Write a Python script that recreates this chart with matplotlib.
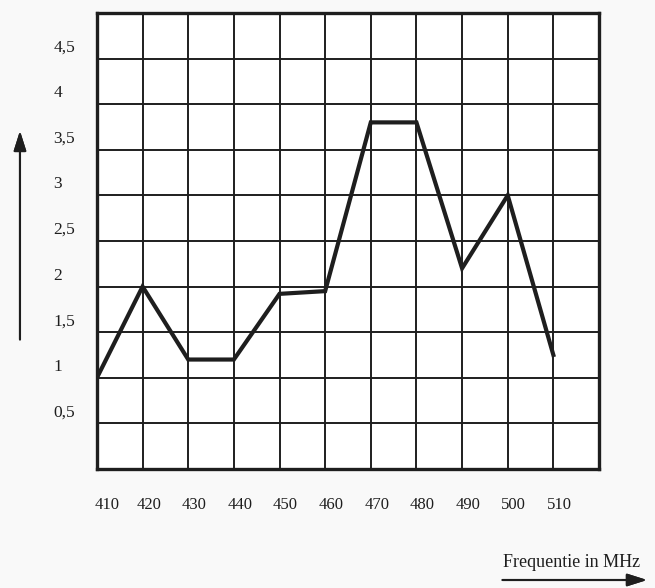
"""
plot.py
Frequency response sketch (grid paper style)
"""

import matplotlib
matplotlib.use('Agg')
import matplotlib.pyplot as plt
from matplotlib.transforms import ScaledTranslation

# data
freq = [410, 420, 430, 440, 450, 460, 470, 480, 490, 500, 510]
level = [1.0, 2.0, 1.2, 1.2, 1.92, 1.95, 3.8, 3.8, 2.2, 3.0, 1.25]
x_ticks = [410, 420, 430, 440, 450, 460, 470, 480, 490, 500, 510]
y_ticks = [0.5, 1, 1.5, 2, 2.5, 3, 3.5, 4, 4.5]
y_labels = ['0,5', '1', '1,5', '2', '2,5', '3', '3,5', '4', '4,5']

plt.rcParams['font.family'] = ['Liberation Serif', 'DejaVu Serif']

bg = '#f9f9f9'
ink = '#1e1e1e'

fig = plt.figure(figsize=(6.55, 5.88), dpi=100, facecolor=bg)
ax = fig.add_axes([0.148, 0.2024, 0.7665, 0.7756])
ax.set_facecolor('white')

ax.set_xlim(410, 520)
ax.set_ylim(0, 5)

# grid paper
for gx in range(410, 521, 10):
    ax.axvline(gx, color=ink, lw=1.4, zorder=1)
for i in range(11):
    ax.axhline(i * 0.5, color=ink, lw=1.4, zorder=1)

for s in ax.spines.values():
    s.set_linewidth(2.4)
    s.set_color(ink)

ax.plot(freq, level, color=ink, lw=3.0, solid_joinstyle='miter', zorder=3)

# x tick labels below the grid, printed a bit right of their lines
ax.set_xticks(x_ticks)
ax.set_xticklabels([str(v) for v in x_ticks], fontsize=12, color=ink)
ax.tick_params(axis='x', length=0, pad=20)
for i, lab in enumerate(ax.get_xticklabels()):
    dx = 10 if i == 0 else 6
    lab.set_transform(lab.get_transform() + ScaledTranslation(dx / 100, 0, fig.dpi_scale_trans))

# y labels sit just above their grid line, left aligned
ax.set_yticks([])
trans = ax.get_yaxis_transform()
for v, lab in zip(y_ticks, y_labels):
    ax.text(-0.087, v + 0.12, lab, transform=trans, ha='left', va='center',
            fontsize=12.5, color=ink)

# axis arrows
arrow = dict(arrowstyle='-|>,head_length=1.2,head_width=0.38', color=ink, lw=1.5)
fig.add_artist(plt.annotate('', xy=(0.0305, 0.782), xytext=(0.0305, 0.418),
                            xycoords='figure fraction', textcoords='figure fraction',
                            arrowprops=arrow))
fig.add_artist(plt.annotate('', xy=(0.992, 0.0136), xytext=(0.763, 0.0136),
                            xycoords='figure fraction', textcoords='figure fraction',
                            arrowprops=arrow))
fig.text(0.872, 0.044, 'Frequentie in MHz', ha='center', va='center',
         fontsize=13, color=ink)

plt.savefig('out.png', dpi=100, facecolor=bg)
